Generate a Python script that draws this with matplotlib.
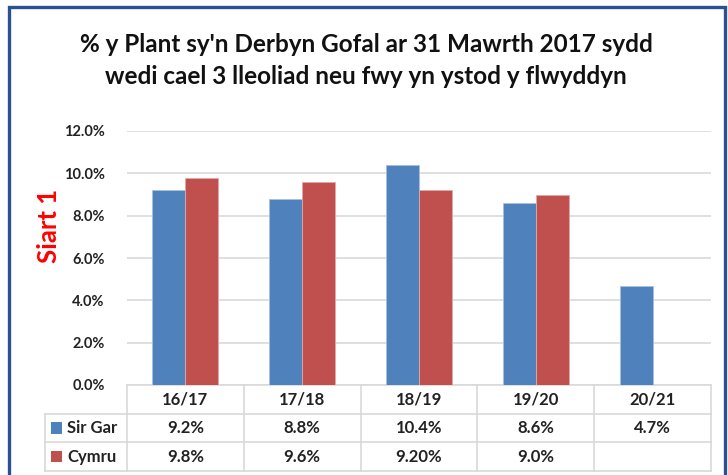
import matplotlib.pyplot as plt
from matplotlib.patches import Rectangle
import matplotlib.transforms as mtransforms
import numpy as np

plt.rcParams['font.family'] = ['Lato', 'DejaVu Sans']

years = ["16/17", "17/18", "18/19", "19/20", "20/21"]
sir_gar = [9.2, 8.8, 10.4, 8.6, 4.7]
cymru = [9.8, 9.6, 9.2, 9.0, np.nan]
sir_gar_labels = ["9.2%", "8.8%", "10.4%", "8.6%", "4.7%"]
cymru_labels = ["9.8%", "9.6%", "9.20%", "9.0%", ""]
yticks = [0, 2, 4, 6, 8, 10, 12]

BLUE = "#4F81BD"
RED = "#C0504D"
GRID = "#D9D9D9"
TXT = "#222222"

W, H = 728, 475
fig = plt.figure(figsize=(W / 100, H / 100), dpi=100)
fig.patch.set_facecolor("white")

# outer frame
fig.patches.append(Rectangle((9 / W, -0.05), 716 / W, 1.05 - 7 / H, transform=fig.transFigure,
                             fill=False, edgecolor="#2A5190", linewidth=2.4))

ax = fig.add_axes([127 / W, 1 - 385 / H, 584 / W, 254 / H])
x = np.arange(len(years))
bw = 0.283
ax.bar(x - bw / 2, sir_gar, bw, color=BLUE, edgecolor="#A7C0E0", linewidth=0.6, zorder=3)
ax.bar(x + bw / 2, cymru, bw, color=RED, edgecolor="#E0A9A8", linewidth=0.6, zorder=3)
ax.set_xlim(-0.5, len(years) - 0.5)
ax.set_ylim(0, 12)
ax.set_yticks(yticks)
ax.set_yticklabels([f"{v:.1f}%" for v in yticks], fontsize=10.5, fontweight="bold", color=TXT)
ax.tick_params(axis="y", length=0, pad=16)
ax.set_xticks([])
for s in ax.spines.values():
    s.set_visible(False)
ax.yaxis.grid(True, color=GRID, linewidth=1.2, zorder=0)

# table below axes
tr = mtransforms.blended_transform_factory(ax.transData, ax.transAxes)
rh = 28.7 / 254
x_first = -0.5 - (127 - 45) / (584 / 5)
n = len(years)
ax.plot([-0.5, n - 0.5], [0, 0], transform=tr, color=GRID, lw=1.2, clip_on=False)
for k in (1, 2, 3):
    ax.plot([x_first, n - 0.5], [-k * rh, -k * rh], transform=tr, color=GRID, lw=1.2, clip_on=False)
for i in range(n + 1):
    ax.plot([i - 0.5, i - 0.5], [0, -3 * rh], transform=tr, color=GRID, lw=1.2, clip_on=False)
ax.plot([x_first, x_first], [-rh, -3 * rh], transform=tr, color=GRID, lw=1.2, clip_on=False)

for i, yr in enumerate(years):
    ax.text(i, -0.5 * rh, yr, transform=tr, ha="center", va="center",
            fontsize=12, fontweight="bold", color=TXT)
    ax.text(i, -1.5 * rh, sir_gar_labels[i], transform=tr, ha="center", va="center",
            fontsize=12, fontweight="bold", color=TXT)
    ax.text(i, -2.5 * rh, cymru_labels[i], transform=tr, ha="center", va="center",
            fontsize=12, fontweight="bold", color=TXT)

for k, (name, col) in enumerate([("Sir Gar", BLUE), ("Cymru", RED)]):
    yc = -(1.5 + k) * rh
    ax.add_patch(Rectangle((x_first + 0.05, yc - 0.022), 0.095, 0.044, transform=tr,
                           facecolor=col, edgecolor="none", clip_on=False))
    ax.text(x_first + 0.19, yc, name, transform=tr, ha="left", va="center",
            fontsize=12, fontweight="bold", color=TXT)

fig.text(366 / W, 1 - 45 / H, "% y Plant sy'n Derbyn Gofal ar 31 Mawrth 2017 sydd",
         ha="center", va="center", fontsize=17.5, fontweight="bold", color="#111111")
fig.text(366 / W, 1 - 76 / H, "wedi cael 3 lleoliad neu fwy yn ystod y flwyddyn",
         ha="center", va="center", fontsize=17.5, fontweight="bold", color="#111111")

fig.text(49 / W, 1 - 226 / H, "Siart 1", rotation=90, ha="center", va="center",
         fontsize=18.5, fontweight="bold", color="#FF0000")

fig.savefig("out.png", dpi=100)
